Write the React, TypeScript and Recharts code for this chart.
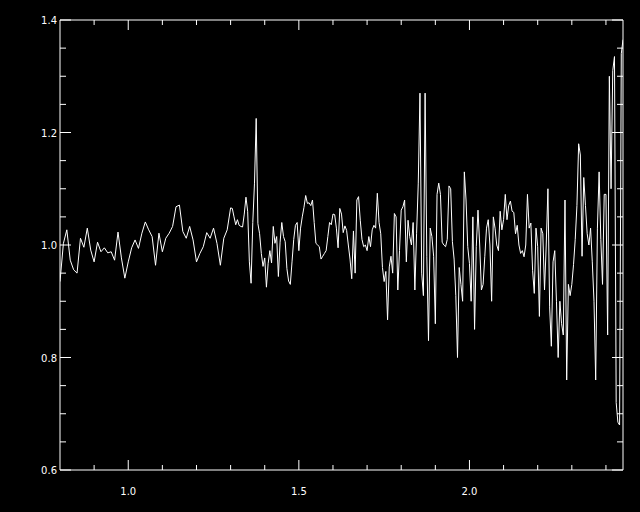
import React from 'react';
import { LineChart, Line, XAxis, YAxis } from 'recharts';

// wavelength grid (x): 0.01 steps up to 1.29, then 0.005 steps where the spectrum gets busier
const WAVELENGTH = [
  0.8, 0.81, 0.82, 0.83, 0.84, 0.85, 0.86, 0.87, 0.88, 0.89,
  0.9, 0.91, 0.92, 0.93, 0.94, 0.95, 0.96, 0.97, 0.98, 0.99,
  1.0, 1.01, 1.02, 1.03, 1.04, 1.05, 1.06, 1.07, 1.08, 1.09,
  1.1, 1.11, 1.12, 1.13, 1.14, 1.15, 1.16, 1.17, 1.18, 1.19,
  1.2, 1.21, 1.22, 1.23, 1.24, 1.25, 1.26, 1.27, 1.28, 1.29,
  1.3, 1.305, 1.31, 1.315, 1.32, 1.325, 1.33, 1.335, 1.34, 1.345,
  1.35, 1.355, 1.36, 1.365, 1.37, 1.375, 1.38, 1.385, 1.39, 1.395,
  1.4, 1.405, 1.41, 1.415, 1.42, 1.425, 1.43, 1.435, 1.44, 1.445,
  1.45, 1.455, 1.46, 1.465, 1.47, 1.475, 1.48, 1.485, 1.49, 1.495,
  1.5, 1.505, 1.51, 1.515, 1.52, 1.525, 1.53, 1.535, 1.54, 1.545,
  1.55, 1.555, 1.56, 1.565, 1.57, 1.575, 1.58, 1.585, 1.59, 1.595,
  1.6, 1.605, 1.61, 1.615, 1.62, 1.625, 1.63, 1.635, 1.64, 1.645,
  1.65, 1.655, 1.66, 1.665, 1.67, 1.675, 1.68, 1.685, 1.69, 1.695,
  1.7, 1.705, 1.71, 1.715, 1.72, 1.725, 1.73, 1.735, 1.74, 1.745,
  1.75, 1.755, 1.76, 1.765, 1.77, 1.775, 1.78, 1.785, 1.79, 1.795,
  1.8, 1.805, 1.81, 1.815, 1.82, 1.825, 1.83, 1.835, 1.84, 1.845,
  1.85, 1.855, 1.86, 1.865, 1.87, 1.875, 1.88, 1.885, 1.89, 1.895,
  1.9, 1.905, 1.91, 1.915, 1.92, 1.925, 1.93, 1.935, 1.94, 1.945,
  1.95, 1.955, 1.96, 1.965, 1.97, 1.975, 1.98, 1.985, 1.99, 1.995,
  2.0, 2.005, 2.01, 2.015, 2.02, 2.025, 2.03, 2.035, 2.04, 2.045,
  2.05, 2.055, 2.06, 2.065, 2.07, 2.075, 2.08, 2.085, 2.09, 2.095,
  2.1, 2.105, 2.11, 2.115, 2.12, 2.125, 2.13, 2.135, 2.14, 2.145,
  2.15, 2.155, 2.16, 2.165, 2.17, 2.175, 2.18, 2.185, 2.19, 2.195,
  2.2, 2.205, 2.21, 2.215, 2.22, 2.225, 2.23, 2.235, 2.24, 2.245,
  2.25, 2.255, 2.26, 2.265, 2.27, 2.275, 2.28, 2.285, 2.29, 2.295,
  2.3, 2.305, 2.31, 2.315, 2.32, 2.325, 2.33, 2.335, 2.34, 2.345,
  2.35, 2.355, 2.36, 2.365, 2.37, 2.375, 2.38, 2.385, 2.39, 2.395,
  2.4, 2.405, 2.41, 2.415, 2.42, 2.425, 2.43, 2.435, 2.44, 2.445,
  2.45,
];

// normalised flux
const FLUX = [
  0.935, 1.003, 1.027, 0.973, 0.956, 0.95, 1.012, 0.996, 1.03, 0.991,
  0.97, 1.005, 0.988, 0.995, 0.986, 0.988, 0.973, 1.023, 0.977, 0.941,
  0.97, 0.995, 1.009, 0.994, 1.021, 1.041, 1.027, 1.015, 0.964, 1.021,
  0.988, 1.012, 1.021, 1.033, 1.068, 1.071, 1.024, 1.012, 1.033, 1.009,
  0.97, 0.985, 0.997, 1.022, 1.012, 1.03, 1.003, 0.964, 1.012, 1.027,
  1.066, 1.065, 1.05, 1.036, 1.045, 1.035, 1.033, 1.032, 1.055, 1.085,
  1.06, 0.97, 0.932, 1.04, 1.11, 1.225, 1.038, 1.02, 0.985, 0.962,
  0.977, 0.925, 0.967, 0.99, 0.968, 1.033, 1.003, 1.015, 0.944, 1.005,
  1.04, 1.015, 1.006, 0.958, 0.936, 0.93, 0.97, 1.01, 1.035, 1.04,
  0.99, 1.03, 1.05, 1.067, 1.088, 1.074, 1.075, 1.07, 1.08, 1.04,
  1.003, 1.0, 0.997, 0.975, 0.98, 0.985, 0.99, 1.015, 1.04, 1.036,
  1.055, 1.054, 1.03, 0.995, 1.065, 1.055, 1.022, 1.034, 1.026, 1.0,
  0.975, 0.94, 1.025, 0.95, 1.08, 1.086, 1.044, 1.01, 0.997, 1.0,
  0.99, 1.015, 0.997, 1.027, 1.035, 1.03, 1.092, 1.04, 1.02, 0.96,
  0.935, 0.953, 0.867, 0.961, 0.98, 0.95, 1.056, 1.05, 0.92, 0.99,
  1.062, 1.068, 1.08, 0.97, 1.044, 1.015, 1.0, 1.04, 0.92, 1.02,
  1.11, 1.27, 0.95, 0.91, 1.27, 0.98, 0.83, 1.03, 1.015, 0.98,
  0.86, 1.09, 1.11, 1.09, 1.005, 1.0, 0.997, 1.01, 1.105, 1.1,
  1.006, 0.975, 0.91, 0.8, 0.96, 0.93, 0.9, 1.13, 1.08, 0.997,
  0.967, 0.9, 1.05, 0.85, 0.997, 1.062, 1.0, 0.92, 0.93, 0.98,
  1.03, 1.045, 1.0, 0.9, 1.05, 1.03, 1.0, 0.99, 1.06, 1.027,
  1.045, 1.09, 1.045, 1.07, 1.078, 1.06, 1.058, 1.02, 1.035, 1.0,
  0.985, 0.99, 0.979, 1.0, 1.09, 1.03, 1.039, 0.955, 0.914, 1.03,
  0.997, 0.873, 1.03, 1.02, 0.92, 1.0, 1.1, 0.89, 0.82, 0.97,
  0.99, 0.9, 0.8, 0.9, 0.86, 0.84, 1.08, 0.76, 0.93, 0.91,
  0.93, 0.965, 1.01, 1.07, 1.18, 1.16, 0.98, 1.12, 1.07, 1.02,
  1.0, 1.03, 0.97, 0.9, 0.76, 1.03, 1.13, 1.01, 0.93, 1.09,
  1.09, 0.84, 1.3, 1.1, 1.31, 1.335, 0.72, 0.685, 0.68, 1.34,
  1.365,
];

const X_TICKS = [0.9, 1.0, 1.1, 1.2, 1.3, 1.4, 1.5, 1.6, 1.7, 1.8, 1.9, 2.0, 2.1, 2.2, 2.3, 2.4];
const Y_TICKS = [
  0.6, 0.65, 0.7, 0.75, 0.8, 0.85, 0.9, 0.95, 1.0,
  1.05, 1.1, 1.15, 1.2, 1.25, 1.3, 1.35, 1.4,
];

const data = WAVELENGTH.map((x, i) => ({ x, y: FLUX[i] }));

const FG = '#ffffff';
const FONT = '"DejaVu Sans", sans-serif';

const isMajorX = (v: number) => Math.abs(v * 2 - Math.round(v * 2)) < 1e-6;
const isMajorY = (v: number) => Math.abs(v * 5 - Math.round(v * 5)) < 1e-6;

const BottomTick = (props: any) => {
  const { x, y, payload } = props;
  const major = isMajorX(payload.value);
  return (
    <g>
      <line x1={x} y1={y} x2={x} y2={y - (major ? 10 : 5)} stroke={FG} />
      {major && (
        <text x={x} y={y + 25} textAnchor="middle" fill={FG} fontSize={10} fontFamily={FONT}>
          {payload.value.toFixed(1)}
        </text>
      )}
    </g>
  );
};

const TopTick = (props: any) => {
  const { x, y, payload } = props;
  const major = isMajorX(payload.value);
  return <line x1={x} y1={y} x2={x} y2={y + (major ? 10 : 5)} stroke={FG} />;
};

const LeftTick = (props: any) => {
  const { x, y, payload } = props;
  const major = isMajorY(payload.value);
  return (
    <g>
      <line x1={x} y1={y} x2={x + (major ? 11 : 6)} y2={y} stroke={FG} />
      {major && (
        <text x={x - 3} y={y + 4} textAnchor="end" fill={FG} fontSize={10} fontFamily={FONT}>
          {payload.value.toFixed(1)}
        </text>
      )}
    </g>
  );
};

const RightTick = (props: any) => {
  const { x, y, payload } = props;
  const major = isMajorY(payload.value);
  return <line x1={x} y1={y} x2={x - (major ? 11 : 6)} y2={y} stroke={FG} />;
};

export default function App() {
  return (
    <div style={{ position: 'absolute', left: 0, top: 0, width: 640, height: 512, background: '#000' }}>
      <LineChart width={640} height={512} data={data} margin={{ top: 0, right: 0, bottom: 0, left: 0 }}>
        <XAxis
          xAxisId="b"
          dataKey="x"
          type="number"
          domain={[0.8, 2.45]}
          allowDataOverflow
          ticks={X_TICKS}
          interval={0}
          height={42}
          tickSize={0}
          tickMargin={0}
          tickLine={false}
          axisLine={{ stroke: FG }}
          tick={<BottomTick />}
        />
        <XAxis
          xAxisId="t"
          orientation="top"
          dataKey="x"
          type="number"
          domain={[0.8, 2.45]}
          allowDataOverflow
          ticks={X_TICKS}
          interval={0}
          height={20}
          tickSize={0}
          tickMargin={0}
          tickLine={false}
          axisLine={{ stroke: FG }}
          tick={<TopTick />}
        />
        <YAxis
          yAxisId="l"
          type="number"
          domain={[0.6, 1.4]}
          allowDataOverflow
          ticks={Y_TICKS}
          interval={0}
          width={60}
          tickSize={0}
          tickMargin={0}
          tickLine={false}
          axisLine={{ stroke: FG }}
          tick={<LeftTick />}
        />
        <YAxis
          yAxisId="r"
          orientation="right"
          type="number"
          domain={[0.6, 1.4]}
          allowDataOverflow
          ticks={Y_TICKS}
          interval={0}
          width={17}
          tickSize={0}
          tickMargin={0}
          tickLine={false}
          axisLine={{ stroke: FG }}
          tick={<RightTick />}
        />
        <Line
          xAxisId="b"
          yAxisId="l"
          type="linear"
          dataKey="y"
          stroke={FG}
          strokeWidth={1}
          dot={false}
          isAnimationActive={false}
        />
      </LineChart>
    </div>
  );
}
